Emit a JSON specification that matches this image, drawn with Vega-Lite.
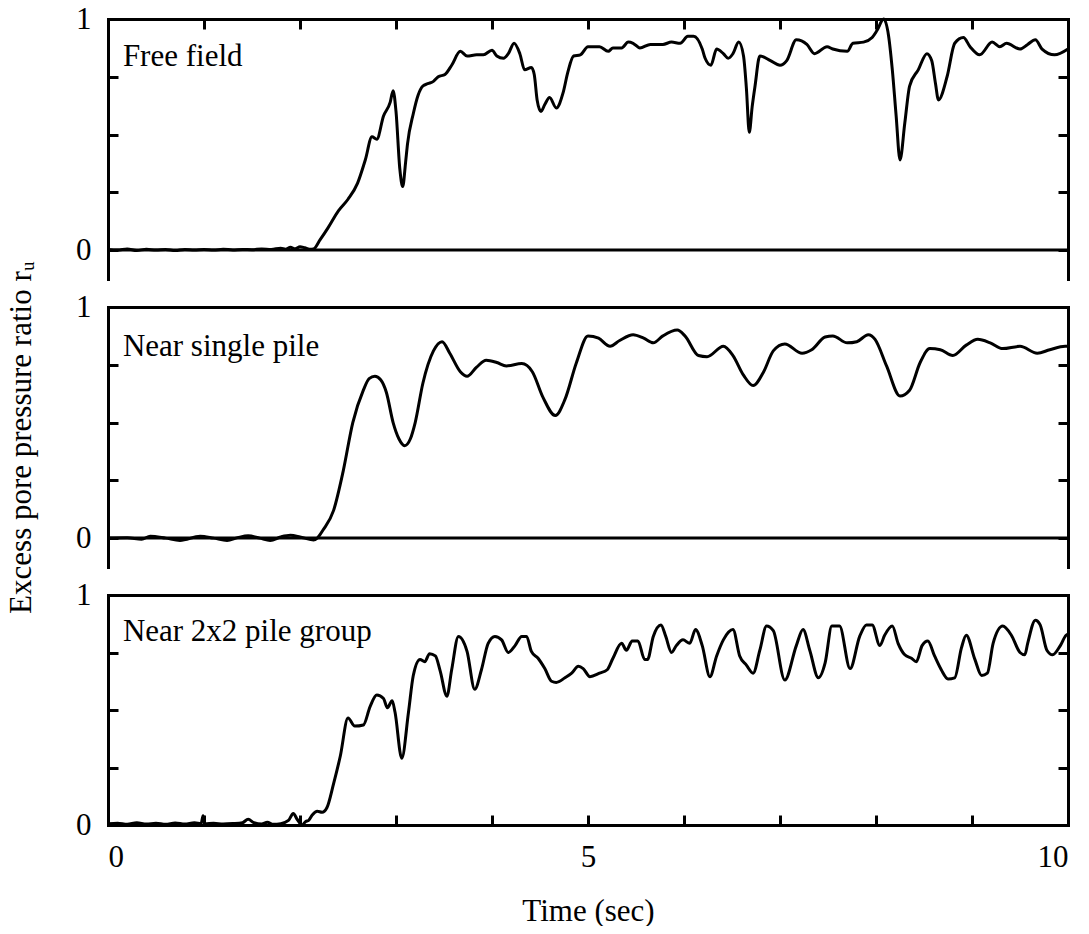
{
  "$schema": "https://vega.github.io/schema/vega-lite/v6.json",
  "padding": {"left": 5, "top": 3, "right": 5, "bottom": 0},
  "background": "white",
  "config": {
    "font": "Times New Roman, Liberation Serif, serif",
    "view": {"stroke": null},
    "text": {"font": "Times New Roman, Liberation Serif, serif"},
    "axis": {
      "grid": false,
      "domainColor": "black",
      "domainWidth": 3,
      "domainCap": "square",
      "tickColor": "black",
      "tickWidth": 3,
      "tickSize": -10,
      "labelFont": "Times New Roman, Liberation Serif, serif",
      "labelFontSize": 31,
      "labelColor": "black",
      "titleFont": "Times New Roman, Liberation Serif, serif",
      "titleFontSize": 31,
      "titleFontWeight": "normal",
      "titleColor": "black"
    }
  },
  "datasets": {
    "free": [
      {"t":0,"r":0.003},{"t":0.1,"r":0.0},{"t":0.2,"r":0.005},{"t":0.3,"r":-0.002},{"t":0.4,"r":0.004},{"t":0.5,"r":0.0},{"t":0.6,"r":0.003},{"t":0.7,"r":-0.002},{"t":0.8,"r":0.003},{"t":0.9,"r":0.001},{"t":1.0,"r":0.003},{"t":1.1,"r":0.0},{"t":1.2,"r":0.004},{"t":1.3,"r":0.001},{"t":1.4,"r":0.003},{"t":1.5,"r":0.002},{"t":1.6,"r":0.005},{"t":1.7,"r":0.003},{"t":1.8,"r":0.008},{"t":1.85,"r":0.004},{"t":1.9,"r":0.012},{"t":1.95,"r":0.006},{"t":2.0,"r":0.015},{"t":2.05,"r":0.01},{"t":2.1,"r":0.004},{"t":2.14,"r":0.005},
      {"t":2.21,"r":0.045},{"t":2.29,"r":0.095},{"t":2.4,"r":0.17},{"t":2.5,"r":0.22},{"t":2.6,"r":0.29},{"t":2.68,"r":0.39},{"t":2.75,"r":0.49},{"t":2.8,"r":0.48},{"t":2.87,"r":0.58},{"t":2.94,"r":0.64},{"t":2.97,"r":0.69},{"t":3.0,"r":0.6},{"t":3.04,"r":0.35},{"t":3.07,"r":0.275},{"t":3.1,"r":0.38},{"t":3.12,"r":0.46},{"t":3.18,"r":0.59},{"t":3.23,"r":0.67},{"t":3.28,"r":0.71},{"t":3.33,"r":0.72},{"t":3.39,"r":0.73},{"t":3.44,"r":0.75},{"t":3.51,"r":0.76},{"t":3.58,"r":0.8},{"t":3.67,"r":0.86},{"t":3.74,"r":0.84},{"t":3.84,"r":0.845},{"t":3.91,"r":0.845},{"t":4.0,"r":0.865},{"t":4.05,"r":0.84},{"t":4.12,"r":0.83},{"t":4.17,"r":0.85},{"t":4.23,"r":0.895},{"t":4.29,"r":0.85},{"t":4.34,"r":0.78},{"t":4.41,"r":0.79},{"t":4.44,"r":0.76},{"t":4.47,"r":0.65},{"t":4.51,"r":0.6},{"t":4.55,"r":0.63},{"t":4.6,"r":0.66},{"t":4.67,"r":0.615},{"t":4.74,"r":0.68},{"t":4.79,"r":0.77},{"t":4.85,"r":0.84},{"t":4.92,"r":0.845},{"t":5.0,"r":0.88},{"t":5.12,"r":0.88},{"t":5.21,"r":0.86},{"t":5.26,"r":0.875},{"t":5.35,"r":0.875},{"t":5.42,"r":0.9},{"t":5.47,"r":0.895},{"t":5.54,"r":0.875},{"t":5.65,"r":0.89},{"t":5.78,"r":0.89},{"t":5.87,"r":0.9},{"t":5.96,"r":0.895},{"t":6.04,"r":0.925},{"t":6.1,"r":0.925},{"t":6.19,"r":0.87},{"t":6.22,"r":0.83},{"t":6.28,"r":0.8},{"t":6.34,"r":0.87},{"t":6.41,"r":0.85},{"t":6.46,"r":0.83},{"t":6.51,"r":0.85},{"t":6.57,"r":0.9},{"t":6.62,"r":0.84},{"t":6.65,"r":0.7},{"t":6.68,"r":0.51},{"t":6.71,"r":0.62},{"t":6.74,"r":0.71},{"t":6.79,"r":0.84},{"t":6.9,"r":0.82},{"t":7.0,"r":0.8},{"t":7.07,"r":0.82},{"t":7.17,"r":0.91},{"t":7.28,"r":0.89},{"t":7.36,"r":0.85},{"t":7.49,"r":0.88},{"t":7.55,"r":0.87},{"t":7.7,"r":0.86},{"t":7.76,"r":0.895},{"t":7.87,"r":0.9},{"t":7.96,"r":0.92},{"t":8.01,"r":0.95},{"t":8.08,"r":1.0},{"t":8.13,"r":0.93},{"t":8.17,"r":0.78},{"t":8.21,"r":0.58},{"t":8.25,"r":0.39},{"t":8.3,"r":0.55},{"t":8.35,"r":0.71},{"t":8.44,"r":0.78},{"t":8.53,"r":0.85},{"t":8.58,"r":0.82},{"t":8.62,"r":0.72},{"t":8.65,"r":0.65},{"t":8.74,"r":0.75},{"t":8.82,"r":0.895},{"t":8.91,"r":0.92},{"t":8.98,"r":0.88},{"t":9.08,"r":0.845},{"t":9.21,"r":0.9},{"t":9.29,"r":0.88},{"t":9.36,"r":0.895},{"t":9.5,"r":0.87},{"t":9.58,"r":0.89},{"t":9.66,"r":0.91},{"t":9.73,"r":0.87},{"t":9.86,"r":0.845},{"t":10.0,"r":0.87}
    ],
    "single": [
      {"t":0,"r":0.0},{"t":0.2,"r":0.002},{"t":0.35,"r":-0.005},{"t":0.44,"r":0.008},{"t":0.6,"r":0.0},{"t":0.75,"r":-0.01},{"t":0.96,"r":0.008},{"t":1.1,"r":0.0},{"t":1.24,"r":-0.01},{"t":1.35,"r":0.002},{"t":1.46,"r":0.01},{"t":1.58,"r":0.0},{"t":1.69,"r":-0.01},{"t":1.8,"r":0.005},{"t":1.9,"r":0.012},{"t":2.0,"r":0.005},{"t":2.1,"r":-0.005},{"t":2.14,"r":-0.008},{"t":2.18,"r":0.0},
      {"t":2.24,"r":0.035},{"t":2.35,"r":0.12},{"t":2.45,"r":0.29},{"t":2.55,"r":0.5},{"t":2.66,"r":0.64},{"t":2.72,"r":0.69},{"t":2.78,"r":0.7},{"t":2.84,"r":0.685},{"t":2.9,"r":0.63},{"t":2.97,"r":0.5},{"t":3.03,"r":0.43},{"t":3.09,"r":0.4},{"t":3.15,"r":0.43},{"t":3.2,"r":0.5},{"t":3.28,"r":0.67},{"t":3.39,"r":0.81},{"t":3.48,"r":0.85},{"t":3.56,"r":0.8},{"t":3.67,"r":0.72},{"t":3.74,"r":0.7},{"t":3.84,"r":0.74},{"t":3.94,"r":0.77},{"t":4.05,"r":0.76},{"t":4.15,"r":0.745},{"t":4.31,"r":0.755},{"t":4.42,"r":0.72},{"t":4.53,"r":0.61},{"t":4.66,"r":0.53},{"t":4.76,"r":0.6},{"t":4.88,"r":0.76},{"t":5.0,"r":0.875},{"t":5.11,"r":0.865},{"t":5.23,"r":0.83},{"t":5.33,"r":0.855},{"t":5.47,"r":0.88},{"t":5.58,"r":0.865},{"t":5.68,"r":0.845},{"t":5.78,"r":0.875},{"t":5.93,"r":0.9},{"t":6.01,"r":0.875},{"t":6.15,"r":0.79},{"t":6.24,"r":0.785},{"t":6.41,"r":0.83},{"t":6.51,"r":0.79},{"t":6.62,"r":0.705},{"t":6.72,"r":0.66},{"t":6.83,"r":0.72},{"t":6.93,"r":0.81},{"t":7.05,"r":0.84},{"t":7.23,"r":0.8},{"t":7.33,"r":0.815},{"t":7.47,"r":0.87},{"t":7.55,"r":0.875},{"t":7.7,"r":0.845},{"t":7.8,"r":0.85},{"t":7.92,"r":0.88},{"t":7.99,"r":0.86},{"t":8.11,"r":0.745},{"t":8.25,"r":0.615},{"t":8.35,"r":0.64},{"t":8.46,"r":0.76},{"t":8.56,"r":0.82},{"t":8.67,"r":0.815},{"t":8.8,"r":0.79},{"t":8.94,"r":0.835},{"t":9.06,"r":0.86},{"t":9.19,"r":0.845},{"t":9.32,"r":0.82},{"t":9.5,"r":0.83},{"t":9.68,"r":0.8},{"t":9.81,"r":0.815},{"t":9.97,"r":0.83},{"t":10.0,"r":0.83}
    ],
    "group": [
      {"t":0,"r":0.005},{"t":0.1,"r":0.008},{"t":0.2,"r":0.003},{"t":0.3,"r":0.01},{"t":0.4,"r":0.004},{"t":0.5,"r":0.008},{"t":0.6,"r":0.003},{"t":0.7,"r":0.009},{"t":0.8,"r":0.004},{"t":0.9,"r":0.01},{"t":0.97,"r":0.006},{"t":0.99,"r":0.04},{"t":1.01,"r":0.005},{"t":1.1,"r":0.008},{"t":1.2,"r":0.004},{"t":1.3,"r":0.006},{"t":1.4,"r":0.01},{"t":1.46,"r":0.025},{"t":1.52,"r":0.01},{"t":1.6,"r":0.004},{"t":1.66,"r":0.012},{"t":1.72,"r":0.003},{"t":1.8,"r":0.006},{"t":1.88,"r":0.02},{"t":1.93,"r":0.05},{"t":1.97,"r":0.025},{"t":2.02,"r":0.0},{"t":2.06,"r":0.015},{"t":2.09,"r":0.02},{"t":2.13,"r":0.045},{"t":2.18,"r":0.06},{"t":2.23,"r":0.055},{"t":2.28,"r":0.075},
      {"t":2.35,"r":0.18},{"t":2.42,"r":0.3},{"t":2.5,"r":0.465},{"t":2.57,"r":0.43},{"t":2.66,"r":0.435},{"t":2.73,"r":0.515},{"t":2.8,"r":0.565},{"t":2.87,"r":0.55},{"t":2.91,"r":0.51},{"t":2.96,"r":0.54},{"t":2.99,"r":0.49},{"t":3.06,"r":0.29},{"t":3.13,"r":0.49},{"t":3.18,"r":0.65},{"t":3.25,"r":0.72},{"t":3.3,"r":0.71},{"t":3.35,"r":0.745},{"t":3.41,"r":0.735},{"t":3.46,"r":0.67},{"t":3.53,"r":0.56},{"t":3.58,"r":0.675},{"t":3.65,"r":0.82},{"t":3.74,"r":0.755},{"t":3.82,"r":0.59},{"t":3.89,"r":0.675},{"t":3.96,"r":0.79},{"t":4.03,"r":0.82},{"t":4.1,"r":0.805},{"t":4.17,"r":0.75},{"t":4.24,"r":0.78},{"t":4.31,"r":0.82},{"t":4.36,"r":0.82},{"t":4.41,"r":0.755},{"t":4.48,"r":0.725},{"t":4.55,"r":0.68},{"t":4.62,"r":0.625},{"t":4.67,"r":0.62},{"t":4.76,"r":0.64},{"t":4.83,"r":0.66},{"t":4.9,"r":0.69},{"t":4.95,"r":0.68},{"t":5.02,"r":0.645},{"t":5.12,"r":0.66},{"t":5.2,"r":0.675},{"t":5.26,"r":0.725},{"t":5.35,"r":0.79},{"t":5.4,"r":0.76},{"t":5.46,"r":0.8},{"t":5.52,"r":0.8},{"t":5.59,"r":0.72},{"t":5.62,"r":0.72},{"t":5.68,"r":0.82},{"t":5.76,"r":0.87},{"t":5.81,"r":0.82},{"t":5.87,"r":0.75},{"t":5.92,"r":0.78},{"t":5.99,"r":0.805},{"t":6.06,"r":0.79},{"t":6.12,"r":0.85},{"t":6.19,"r":0.78},{"t":6.27,"r":0.645},{"t":6.34,"r":0.735},{"t":6.41,"r":0.805},{"t":6.51,"r":0.85},{"t":6.58,"r":0.735},{"t":6.65,"r":0.695},{"t":6.72,"r":0.66},{"t":6.79,"r":0.76},{"t":6.86,"r":0.865},{"t":6.93,"r":0.845},{"t":7.05,"r":0.63},{"t":7.17,"r":0.78},{"t":7.24,"r":0.85},{"t":7.31,"r":0.76},{"t":7.4,"r":0.64},{"t":7.47,"r":0.705},{"t":7.54,"r":0.865},{"t":7.62,"r":0.865},{"t":7.73,"r":0.68},{"t":7.83,"r":0.82},{"t":7.9,"r":0.87},{"t":7.96,"r":0.87},{"t":8.04,"r":0.78},{"t":8.09,"r":0.825},{"t":8.17,"r":0.865},{"t":8.23,"r":0.79},{"t":8.3,"r":0.74},{"t":8.37,"r":0.725},{"t":8.42,"r":0.71},{"t":8.48,"r":0.78},{"t":8.54,"r":0.8},{"t":8.61,"r":0.735},{"t":8.68,"r":0.675},{"t":8.75,"r":0.635},{"t":8.82,"r":0.64},{"t":8.89,"r":0.77},{"t":8.94,"r":0.825},{"t":9.03,"r":0.72},{"t":9.1,"r":0.65},{"t":9.16,"r":0.66},{"t":9.22,"r":0.79},{"t":9.32,"r":0.865},{"t":9.41,"r":0.825},{"t":9.5,"r":0.75},{"t":9.55,"r":0.74},{"t":9.58,"r":0.79},{"t":9.66,"r":0.89},{"t":9.71,"r":0.87},{"t":9.78,"r":0.76},{"t":9.84,"r":0.74},{"t":9.92,"r":0.78},{"t":9.98,"r":0.825},{"t":10.0,"r":0.83}
    ],
    "one": [{}]
  },
  "vconcat": [
    {
      "width": 960, "height": 260,
      "layer": [
        {
          "data": {"name": "free"},
          "mark": {"type": "line", "color": "black", "strokeWidth": 3, "strokeJoin": "round", "interpolate": "monotone"},
          "encoding": {
            "x": {"field": "t", "type": "quantitative", "scale": {"domain": [0, 10], "nice": false}, "axis": {"orient": "top", "values": [0,1,2,3,4,5,6,7,8,9,10], "labels": false, "title": null}},
            "y": {"field": "r", "type": "quantitative", "scale": {"domain": [-0.125, 1], "nice": false}, "axis": {"orient": "left", "values": [0,0.25,0.5,0.75,1], "labelExpr": "datum.value == 0 ? '0' : datum.value == 1 ? '1' : ''", "labelPadding": 27, "title": null}}
          }
        },
        {
          "data": {"name": "one"},
          "mark": {"type": "rule", "color": "black", "strokeWidth": 3},
          "encoding": {
            "y": {"datum": 0, "type": "quantitative", "scale": {"domain": [-0.125, 1], "nice": false}, "axis": {"orient": "right", "values": [0,0.25,0.5,0.75,1], "labels": false, "title": null}}
          }
        },
        {
          "data": {"name": "one"},
          "mark": {"type": "text", "text": "Free field", "align": "left", "baseline": "alphabetic", "fontSize": 31, "color": "black"},
          "encoding": {
            "x": {"datum": 0.155, "type": "quantitative", "scale": {"domain": [0, 10], "nice": false}, "axis": null},
            "y": {"datum": 0.795, "type": "quantitative", "scale": {"domain": [-0.125, 1], "nice": false}, "axis": null}
          }
        }
      ],
      "resolve": {"axis": {"x": "independent", "y": "independent"}}
    },
    {
      "width": 960, "height": 260,
      "layer": [
        {
          "data": {"name": "single"},
          "mark": {"type": "line", "color": "black", "strokeWidth": 3, "strokeJoin": "round", "interpolate": "monotone"},
          "encoding": {
            "x": {"field": "t", "type": "quantitative", "scale": {"domain": [0, 10], "nice": false}, "axis": {"orient": "top", "ticks": false, "labels": false, "title": null}},
            "y": {"field": "r", "type": "quantitative", "scale": {"domain": [-0.125, 1], "nice": false}, "axis": {"orient": "left", "values": [0,0.25,0.5,0.75,1], "labelExpr": "datum.value == 0 ? '0' : datum.value == 1 ? '1' : ''", "labelPadding": 27, "title": "Excess pore pressure ratio rᵤ", "titlePadding": 38}}
          }
        },
        {
          "data": {"name": "one"},
          "mark": {"type": "rule", "color": "black", "strokeWidth": 3},
          "encoding": {
            "y": {"datum": 0, "type": "quantitative", "scale": {"domain": [-0.125, 1], "nice": false}, "axis": {"orient": "right", "values": [0,0.25,0.5,0.75,1], "labels": false, "title": null}}
          }
        },
        {
          "data": {"name": "one"},
          "mark": {"type": "text", "text": "Near single pile", "align": "left", "baseline": "alphabetic", "fontSize": 31, "color": "black"},
          "encoding": {
            "x": {"datum": 0.155, "type": "quantitative", "scale": {"domain": [0, 10], "nice": false}, "axis": null},
            "y": {"datum": 0.79, "type": "quantitative", "scale": {"domain": [-0.125, 1], "nice": false}, "axis": null}
          }
        }
      ],
      "resolve": {"axis": {"x": "independent", "y": "independent"}}
    },
    {
      "width": 960, "height": 230,
      "layer": [
        {
          "data": {"name": "group"},
          "mark": {"type": "line", "color": "black", "strokeWidth": 3, "strokeJoin": "round", "interpolate": "monotone"},
          "encoding": {
            "x": {"field": "t", "type": "quantitative", "scale": {"domain": [0, 10], "nice": false}, "axis": {"orient": "bottom", "values": [0,1,2,3,4,5,6,7,8,9,10], "labelExpr": "datum.value == 0 ? '0' : datum.value == 5 ? '5' : datum.value == 10 ? '10' : ''", "labelPadding": 27, "title": "Time (sec)", "titlePadding": 24}},
            "y": {"field": "r", "type": "quantitative", "scale": {"domain": [0, 1], "nice": false}, "axis": {"orient": "left", "values": [0,0.25,0.5,0.75,1], "labelExpr": "datum.value == 0 ? '0' : datum.value == 1 ? '1' : ''", "labelPadding": 27, "title": null}}
          }
        },
        {
          "data": {"name": "one"},
          "mark": {"type": "text", "text": "Near 2x2 pile group", "align": "left", "baseline": "alphabetic", "fontSize": 31, "color": "black"},
          "encoding": {
            "x": {"datum": 0.155, "type": "quantitative", "scale": {"domain": [0, 10], "nice": false}, "axis": {"orient": "top", "ticks": false, "labels": false, "title": null}},
            "y": {"datum": 0.8, "type": "quantitative", "scale": {"domain": [0, 1], "nice": false}, "axis": {"orient": "right", "values": [0,0.25,0.5,0.75,1], "labels": false, "title": null}}
          }
        }
      ],
      "resolve": {"axis": {"x": "independent", "y": "independent"}}
    }
  ],
  "spacing": 28,
  "bounds": "flush"
}
